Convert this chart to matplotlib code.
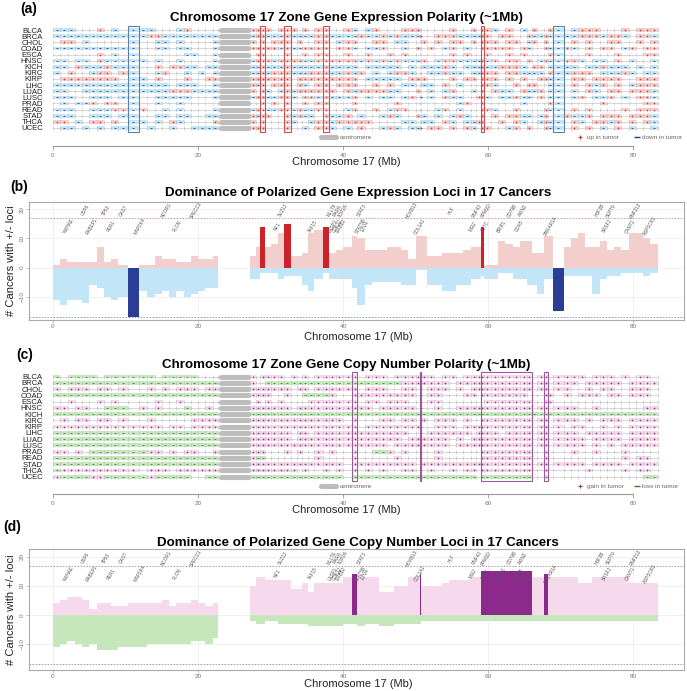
import numpy as np
import matplotlib
matplotlib.use('Agg')
import matplotlib.pyplot as plt
from matplotlib.patches import Rectangle

plt.rcParams['font.family'] = ['Liberation Sans', 'DejaVu Sans']

W, H = 687, 691

cancers = ['BLCA', 'BRCA', 'CHOL', 'COAD', 'ESCA', 'HNSC', 'KICH', 'KIRC', 'KIRP',
           'LIHC', 'LUAD', 'LUSC', 'PRAD', 'READ', 'STAD', 'THCA', 'UCEC']

# zone edges in Mb, short arm / long arm
left_edges = [0, 1, 2, 3, 4, 5, 6, 7, 8, 9, 10.3, 11.9, 13, 14, 15, 16, 17, 18, 19, 20, 21, 22, 22.8]
right_edges = [27.2, 28, 28.6, 29.2, 30, 31, 31.8, 32.8, 33.6, 34.4, 35.2, 36, 37.2, 38, 39, 40,
               41.3, 41.9, 43, 44, 45, 46, 47, 48, 49, 50, 50.6, 50.8, 51.6, 52.6, 53.6, 54.6,
               55.6, 56.6, 57.6, 58.4, 59.0, 59.4, 60.4, 61.4, 62.4, 63.4, 64.4, 65.4, 66.0,
               66.8, 67.7, 68.3, 68.9, 70.5, 71.4, 72.4, 73.4, 74.4, 75.4, 76.4, 77.4, 78.4,
               79.4, 80.4, 81.4, 82.4, 83.4]
centromere = (22.8, 27.2)

# per cancer zone polarity: + up, - down, . none   (short arm | long arm)
expr_rows = [
    "---.. .+.-. ---.. .-+.. .. | ++++. +++.+ .++.. +-.-+ ...++ +.... .+..+ .++-. +.-.+ ..+-. -+++. ..+.+ ++",
    "----- ----- --++- ----- -- | -++-- -+--- -++-- --+-- +-+-- -+..+ ++--- -++.+ +..+- -+--- -+++- ++-.+ +-",
    ".++.- ..... -..-- .-... .- | +.+.+ ++.+. .++.- ++..+ +.--. ..+.+ .++.+ .+++. ++.-+ .+.-. +.+.. ++..+ .+",
    "----- ----- -..-- .--.. .- | +++++ -+--+ +++.+ +-.-- +..-. +..+. -+.-. .++++ +.+-. .+--+ -.+.+ +.-+. ++",
    "..... .+.-. -.... ..--. .- | .++.. .+..+ .++.. +..+. .+.+. ..... .+.+. ..+.. +.+.. ..+-. ..+.. .+... ++",
    "--.-- .+--- --.-. .-... .- | -+++- ++++- -++++ ++-+- +-+-- -.+.- ++--- -+-+. ++.+. -+--+ +-.-- .+.-. .-",
    "--.+- --+-- -..+. ++--. -- | --+-- -+--- --+-- --.-- ---.- ..--- +-.-- -+--+ ++-.+ +.--- -.--+ ---.- .-",
    "-.+.. -++.+ -..-+ ..-.- .- | --+-+ ++--- +++-- +-+.- .-++- ...-- +--.- -+++. ++--- -.+-- +++.- --+-. --",
    ".++++ ++++. --.+. ..+.. ++ | +++++ ++.++ +++++ ++.-- ---.+ +.+.. .+.++ .+++. +.+.. ++--. ++.++ ++..+ ++",
    "----- ----- ----- .---. .- | +-+.+ ++.+- .++.+ ++..+ .+.-- ..--. +.-.. .++-. .+.++ ..--. +.+-+ .+.-+ ++",
    "--..- ----- ----- +++-- -- | +.+-. -+-++ ++++. +-+++ +--.. +..-. -+..- .+.+- -.+-- +.--. -.+-. ++.++ +-",
    "---.. ---.- -..-- ---.. .- | -++-- ++-.+ +-+-- -+.-. --.-+ .-.-. +--.. ++-.- -+--. +.--. -+.-- +.-.+ +-",
    ".-.-- +.++. -..-. .-... .. | ..+.+ .+..+ .++.. .+... ..+.. ..... ..-+. .+... ..-.. ..+-. ....+ ..... ++",
    "---.. ---++ -+..- .-... .- | -++-- ++-+- -++.. -+..+ .-++. ....- +.-.. .++-. .+... .+--. +.+.. ..+.+ ++",
    "---.. ---.- -..-- .--.. -- | +-++. .+-+- -.+-- +.-.. -+-.. +.-.- .-+-. .+.+. ++--. -+.-+ --+.+ ++.++ +-",
    "++.-. ++.+. --.-. +-... .+ | +.+.. .+-.. -++-+ ++++. ...-- ..--. +-.-- ++..+ .+-.. -+--. +-.++ -+.+. +-",
    ".--.- .-.-- -.-.. -..-- -- | +++.. .+..- .++-. -.+.. -+-.- -+.++ .+.+- .++.. -+.+. .+--. +.+.- .+.-. .-",
]
cn_rows = [
    "-.--- -.--- ---.- ----. .. | +.+++ +.+.+ .++++ ++.++ +.+++ ++++. ++.++ +++++ ++++. ++.++ ++.++ +.+.+ +.",
    "----- ----- ----- ----- -- | +..-- ----- ----- ----- ---++ +++++ +.+++ +++++ ++++. ++.++ +.+++ ++.++ ++",
    "+.+++ .++.+ ..+.+ .+++. ++ | +++++ ++.++ .++++ ++.++ +..++ .+.++ +.+.+ +++++ ++++. ++.++ ..+.+ +..++ +.",
    "----- ----- ----- ----- -- | ++++. .+..- ---+. .++++ +++++ .+.++ ...++ .++++ +++.. .++.+ .+++. ++.++ +.",
    "..+.. .+.+. ...+. .+... .. | .+.+. +.... +++++ ++.++ .+++. .+.++ ..... ..+++ ++++. .++.. ..... ..... ..",
    "++.++ ..--- .+.+. ..-.. +. | +++++ ++.++ +++++ ++++. +++++ .+..+ ..+++ +++++ ++++. ++.++ +..+. ..... ++",
    "----- ----- ----- ----- -- | ----- ----- ----- ----- ----- ----- ----- ----- ----- ----- ----- ----- --",
    ".+.++ .++.+ ..+.. ...++ ++ | +++++ +++++ +++++ .+... ++.++ .++.+ ++.+. .++++ ++++. ++.++ +.+.+ ++.++ ++",
    "+++++ +++++ ++++. ++.++ ++ | +++++ +++++ +++++ ++.++ +++++ ++..+ ++.++ +++++ ++++. ++.+. ++..+ .+.++ ++",
    "----- ----- ----- ----- -- | +++++ ++.++ .++++ +++++ ++++. .+.++ ++++. ++++. ++++. ++.++ +.+++ ++.++ ++",
    "----- ----- ----- ----- -- | +++++ ++.++ +++++ +++++ +++.+ +++++ +.+.+ +++++ ++++. ++.++ ++.++ ++.++ ++",
    "----- ----- ----- ----- -- | +++++ +++++ +++++ +++++ +.+++ +.+++ +.+++ +++++ ++++. ++.++ ++.+. +.+++ ++",
    "++.+. ----- --++. +.++. .+ | +++.. .+.+. .+.+. .+..- -+.+. .+..+ ..... .++++ ++++. .+... +..+. ..+.. ..",
    "----- ----- ----- ----- -- | +--.. ..... .+... .+... ..+.. .+..+ ..... .++++ ++++. .+... ..... ..+.+ +.",
    "----- ----- ----- ----- -- | +++++ +++++ +++++ .++++ +++++ .++++ +++++ +++++ ++++. ++.++ ++.++ ++.++ ++",
    "-++++ +++++ +.+++ .++++ ++ | +++++ +++.+ ..+.+ .+.+. +..++ .+.+. .+.++ .++++ ++++. .+... ..+.. ..+.+ +.",
    "+---- ++--- --+-- ---.. -- | ----- ----- ----- .---- ----- -+--- ----- .---- ----. .-... ..... ..... --",
]

# number of cancers with up / down polarity per zone
expr_up = [1, 3, 2, 2, 2, 2, 7, 2, 3, 1, 0, 1, 1, 4, 3, 3, 2, 2, 4, 3, 3, 4,
           4, 7, 14, 7, 8, 12, 15, 4, 4, 5, 12, 13, 14, 5, 6,
           7, 11, 10, 6, 6, 6, 7, 7, 6, 3,
           11, 11, 11, 4, 4, 5, 5, 5, 6, 7, 7,
           14, 1, 1, 9, 8, 7, 9, 9, 5, 5, 11, 11, 0, 7, 10, 12, 7, 7, 9, 6, 7, 6, 12, 12, 10, 8]
expr_down = [11, 13, 11, 11, 12, 6, 7, 10, 11, 10, 17, 8, 10, 9, 8, 10, 8, 10, 9, 8, 7, 7,
             4, 4, 2, 2, 2, 4, 3, 3, 3, 6, 8, 4, 2, 4, 4,
             4, 7, 13, 6, 5, 5, 5, 5, 6, 6,
             1, 1, 1, 6, 6, 8, 8, 6, 6, 4, 4,
             3, 4, 4, 2, 2, 4, 4, 6, 6, 9, 4, 4, 15, 3, 3, 3, 3, 9, 4, 3, 3, 2, 2, 2, 3, 2]
cn_up = [4, 5, 6, 6, 5, 2, 4, 4, 3, 3, 4, 4, 4, 4, 5, 3, 4, 4, 5, 4, 3, 4,
         10, 13, 13, 12, 12, 12, 12, 9, 9, 11, 8, 11, 11, 11, 11,
         13, 14, 13, 13, 13, 8, 8, 10, 10, 13,
         13, 14, 10, 10, 10, 11, 12, 12, 12, 13, 13,
         15, 15, 15, 15, 15, 15, 15, 15, 13, 13, 14, 13, 13, 13, 13, 11, 11, 13, 13, 13, 13, 13,
         11, 11, 11, 11]
cn_down = [11, 10, 9, 10, 11, 10, 12, 12, 12, 11, 11, 11, 10, 10, 10, 10, 10, 10, 9, 9, 10, 8,
           2, 3, 3, 2, 2, 3, 3, 3, 3, 3, 4, 4, 4, 4, 4,
           3, 3, 4, 3, 3, 4, 4, 3, 3, 3,
           3, 3, 2, 2, 2, 2, 2, 2, 2, 2, 2,
           2, 2, 2, 2, 2, 2, 2, 2, 2, 2, 2, 2, 2, 2, 2, 2, 2, 2, 2, 2, 2, 2, 2, 2, 2, 2]

genes_top = ['USP6', 'TP53', 'GAS7', 'NCOR1', 'SPECC1', 'SUZ12', 'MLLT6', 'RARA', 'TOP2A', 'STAT3',
             'HOXB13', 'HLF', 'RNF43', 'PPM1D', 'CD79B', 'AXIN2', 'H3F3B', 'SEPT9', 'RNF213']
genes_top_mb = [4.5, 7.4, 9.8, 15.7, 19.8, 31.7, 38.4, 39.2, 40.0, 42.6,
                49.5, 55.0, 58.5, 59.8, 63.4, 64.8, 75.4, 77.0, 80.3]
genes_bot = ['YWHAE', 'RABEP1', 'PER1', 'MAP2K4', 'FLCN', 'NF1', 'TAF15', 'LASP1', 'CDK12', 'ERBB2',
             'STAT5B', 'ETV4', 'COL1A1', 'MSI2', 'CLTC', 'BRIP1', 'DDX5', 'PRKAR1A', 'SRSF2', 'CANT1',
             'ASPSCR1']
genes_bot_mb = [2.2, 5.4, 8.1, 12.0, 17.1, 31.0, 35.9, 38.6, 39.2, 39.8,
                42.4, 43.1, 50.6, 57.9, 59.7, 61.9, 64.4, 68.6, 76.4, 79.6, 82.4]

DOMINANT = 14

lo = np.array(left_edges[:-1] + right_edges[:-1])
hi = np.array(left_edges[1:] + right_edges[1:])
wid = hi - lo
all_edges = left_edges + right_edges


def clean(rows):
    out = [r.replace(' ', '').replace('|', '') for r in rows]
    for r in out:
        assert len(r) == len(lo), len(r)
    return out


def runs(mask):
    res = []
    j = 0
    while j < len(mask):
        if mask[j]:
            k = j
            while k + 1 < len(mask) and mask[k + 1]:
                k += 1
            res.append((j, k))
            j = k + 1
        else:
            j += 1
    return res


fig = plt.figure(figsize=(W / 100, H / 100), dpi=100)


def px_axes(l, t, r, b):
    return fig.add_axes([l / W, 1 - b / H, (r - l) / W, (b - t) / H])


def ftext(x, y, s, **kw):
    fig.text(x / W, 1 - y / H, s, **kw)


def polarity_panel(ax, rows, fill, mark, up, down, box_up, box_down, leg_up, leg_down, ybot):
    rows = clean(rows)
    n = len(cancers)
    ax.set_xlim(-0.83, 87.03)
    ax.set_ylim(ybot, -0.98)
    px = {'+': ([], []), '-': ([], [])}
    for i, s in enumerate(rows):
        ax.plot([0, hi[-1]], [i, i], color='#c8c8c8', lw=0.5, zorder=1)
        for j, c in enumerate(s):
            if c == '.':
                continue
            ax.add_patch(Rectangle((lo[j], i - 0.3), wid[j], 0.6, facecolor=fill[c], lw=0, zorder=2))
            px[c][0].append(lo[j] + wid[j] / 2)
            px[c][1].append(i)
        ax.vlines(all_edges, i - 0.32, i + 0.32, color='#b5b5b5', lw=0.4, zorder=3)
        ax.plot([centromere[0] + 0.35, centromere[1] - 0.35], [i, i], color='#bdbdbd', lw=3.7,
                solid_capstyle='round', zorder=4)
    ax.scatter(px['+'][0], px['+'][1], marker='+', s=3, linewidths=0.5, color=mark['+'], zorder=5)
    ax.scatter(px['-'][0], px['-'][1], marker='_', s=3, linewidths=0.6, color=mark['-'], zorder=5)
    for cnt, col in ((up, box_up), (down, box_down)):
        for j, k in runs(np.array(cnt) >= DOMINANT):
            ax.add_patch(Rectangle((lo[j], -0.65), hi[k] - lo[j], n - 1 + 1.3, fill=False,
                                   edgecolor=col, lw=0.8, zorder=6))
    # legend
    lr = n + 0.5
    ax.plot([36.9, 39.1], [lr, lr], color='#bdbdbd', lw=3.7, solid_capstyle='round', clip_on=False)
    ax.text(39.6, lr, 'centromere', fontsize=4.6, color='#666666', va='center')
    ax.scatter([72.7], [lr], marker='+', s=10, linewidths=0.8, color=mark['+'], clip_on=False)
    ax.text(73.6, lr, leg_up, fontsize=4.6, color='#666666', va='center')
    ax.scatter([80.5], [lr], marker='_', s=14, linewidths=1.0, color=mark['-'], clip_on=False)
    ax.text(81.3, lr, leg_down, fontsize=4.6, color='#666666', va='center', clip_on=False)

    ax.set_yticks(range(n))
    ax.set_yticklabels(cancers, fontsize=5.6, color='#222222')
    ax.tick_params(axis='y', length=0, pad=3)
    ax.set_xticks([0, 20, 40, 60, 80])
    ax.tick_params(axis='x', length=3, width=0.6, color='#999999', labelsize=4.6,
                   labelcolor='#777777', pad=2)
    for side in ('top', 'left', 'right'):
        ax.spines[side].set_visible(False)
    ax.spines['bottom'].set_bounds(0, 80)
    ax.spines['bottom'].set_color('#999999')
    ax.spines['bottom'].set_linewidth(0.8)
    ax.patch.set_alpha(0)


def dominance_panel(ax, up, down, light, dark, dash, ylim):
    up = np.array(up)
    down = np.array(down)
    ax.set_xlim(-3.31, 87.03)
    ax.set_ylim(*ylim)
    ax.set_axisbelow(True)
    ax.grid(True, color='#ececec', lw=0.5)
    ax.bar(lo, up, width=wid, align='edge', lw=0,
           color=[dark['+'] if v >= DOMINANT else light['+'] for v in up])
    ax.bar(lo, -down, width=wid, align='edge', lw=0,
           color=[dark['-'] if v >= DOMINANT else light['-'] for v in down])
    n = len(cancers)
    ax.axhline(n, color=dash['+'], lw=0.6, ls=(0, (2, 1.6)))
    ax.axhline(-n, color=dash['-'], lw=0.6, ls=(0, (2, 1.6)))
    for g, m in zip(genes_top, genes_top_mb):
        ax.text(m, 19.6, g, fontsize=3.3, rotation=60, ha='center', va='center', color='#555555')
    for g, m in zip(genes_bot, genes_bot_mb):
        ax.text(m, 14.2, g, fontsize=3.3, rotation=60, ha='center', va='center', color='#555555')
    ax.set_xticks([0, 20, 40, 60, 80])
    ax.set_yticks([-10, 0, 10, 20])
    ax.tick_params(length=2, width=0.5, color='#aaaaaa', labelsize=4.6, labelcolor='#777777', pad=1)
    for lab in ax.get_yticklabels():
        lab.set_rotation(90)
        lab.set_va('center')
    for sp in ax.spines.values():
        sp.set_color('#aaaaaa')
        sp.set_linewidth(0.8)


# (a) expression polarity grid
ax_a = px_axes(47, 24, 684, 146)
polarity_panel(ax_a, expr_rows, {'+': '#f6cdca', '-': '#c4e6f7'}, {'+': '#d43c3c', '-': '#1f3c88'},
               expr_up, expr_down, '#c85050', '#5a7fa8', 'up in tumor', 'down in tumor', 18.94)

# (b) expression dominance
ax_b = px_axes(29, 201.7, 684, 320)
dominance_panel(ax_b, expr_up, expr_down, {'+': '#f2cfcc', '-': '#c2e6f8'},
                {'+': '#cc2229', '-': '#2a3e96'}, {'+': '#d99090', '-': '#8090b0'}, (-18, 22.6))

# (c) copy number polarity grid
ax_c = px_axes(47, 370.4, 684, 494)
polarity_panel(ax_c, cn_rows, {'+': '#f7d7ea', '-': '#c8e8c0'}, {'+': '#8e3a8e', '-': '#2e7d32'},
               cn_up, cn_down, '#9a5a9a', '#5a9a5a', 'gain in tumor', 'loss in tumor', 18.77)

# (d) copy number dominance
ax_d = px_axes(29, 549.3, 684, 670)
dominance_panel(ax_d, cn_up, cn_down, {'+': '#f6d9ec', '-': '#c6e6bc'},
                {'+': '#8b2a8a', '-': '#2e7d32'}, {'+': '#a890a8', '-': '#80a0a0'}, (-19, 22.6))

# titles, labels
for lab, x, y in (('(a)', 29, 9), ('(b)', 19, 187), ('(c)', 25, 355), ('(d)', 12, 527)):
    ftext(x, y, lab, fontsize=10, fontweight='bold', ha='center', va='center')
ftext(346, 18, 'Chromosome 17 Zone Gene Expression Polarity (~1Mb)',
      fontsize=9.6, fontweight='bold', ha='center', va='center')
ftext(358, 193, 'Dominance of Polarized Gene Expression Loci in 17 Cancers',
      fontsize=9.6, fontweight='bold', ha='center', va='center')
ftext(346, 365, 'Chromosome 17 Zone Gene Copy Number Polarity (~1Mb)',
      fontsize=9.6, fontweight='bold', ha='center', va='center')
ftext(358, 543, 'Dominance of Polarized Gene Copy Number Loci in 17 Cancers',
      fontsize=9.6, fontweight='bold', ha='center', va='center')
for x, y in ((346, 162), (358, 337), (346, 510), (358, 684)):
    ftext(x, y, 'Chromosome 17 (Mb)', fontsize=8, ha='center', va='center', color='#222222')
for y in (261, 610):
    ftext(11, y, '# Cancers with +/- loci', fontsize=8, rotation=90, ha='center', va='center',
          color='#222222')

fig.savefig('out.png', dpi=100)
